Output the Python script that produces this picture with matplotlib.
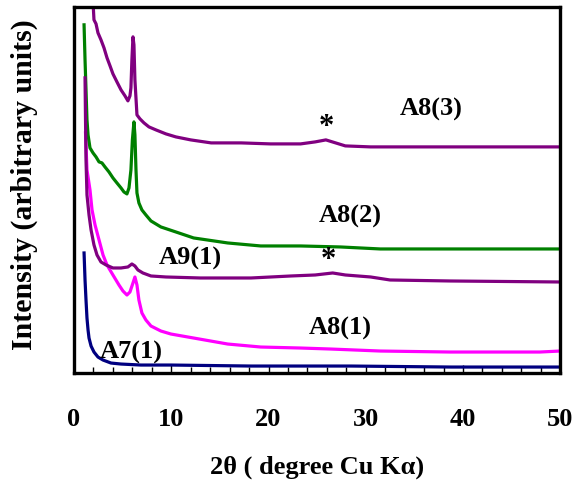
import matplotlib
matplotlib.use('Agg')
import matplotlib.pyplot as plt

plt.rcParams['font.family'] = ['Liberation Serif', 'DejaVu Serif']
plt.rcParams['font.weight'] = 'bold'

# 2theta (degree) and intensity (arbitrary units)
a8_3_x = [1.95, 2.05, 2.26, 2.46, 2.77, 3.08, 3.39, 3.70, 4.00, 4.41, 4.83, 5.24, 5.54, 5.75,
          5.85, 5.95, 6.06, 6.16, 6.26, 6.47, 6.78, 7.19, 7.70, 8.42, 9.45, 10.47, 12.0, 14.1,
          17.2, 20.2, 23.3, 24.8, 25.9, 26.9, 27.9, 30.5, 35.6, 41.8, 50.0]
a8_3_y = [371, 353, 349, 340, 333, 325, 315, 307, 299, 291, 283, 277, 272, 277,
          285, 313, 336, 328, 293, 258, 254, 250, 246, 243, 239, 236, 233, 230,
          230, 229, 229, 231, 233, 230, 227, 226, 226, 226, 226]

a8_2_x = [1.03, 1.13, 1.23, 1.33, 1.44, 1.64, 1.95, 2.26, 2.57, 2.87, 3.18, 3.59, 4.0, 4.41,
          4.83, 5.13, 5.44, 5.65, 5.85, 6.0, 6.16, 6.26, 6.37, 6.47, 6.67, 6.98, 7.39, 7.91,
          8.93, 10.47, 12.3, 15.8, 19.2, 23.3, 27.4, 31.5, 38.7, 50.0]
a8_2_y = [348, 313, 283, 253, 238, 225, 220, 216, 211, 210, 206, 201, 195, 190,
          185, 181, 179, 185, 203, 233, 251, 238, 203, 180, 170, 163, 158, 152,
          146, 141, 135, 130, 127, 127, 126, 124, 124, 124]

a9_1_x = [1.13, 1.18, 1.23, 1.33, 1.54, 1.75, 2.05, 2.36, 2.77, 3.29, 4.0, 4.83, 5.54, 5.95,
          6.26, 6.57, 7.08, 7.91, 9.45, 13.0, 18.2, 22.3, 24.8, 26.6, 27.9, 30.5, 32.5, 38.7, 50.0]
a9_1_y = [295, 253, 213, 178, 158, 143, 128, 118, 111, 108, 105, 105, 106, 109,
          107, 103, 100, 97, 96, 95, 95, 97, 98, 100, 98, 96, 93, 92, 91]

a8_1_x = [1.18, 1.33, 1.64, 1.85, 2.16, 2.57, 2.98, 3.39, 4.0, 4.62, 5.03, 5.44, 5.75,
          6.06, 6.26, 6.47, 6.67, 6.98, 7.39, 7.91, 8.93, 9.96, 12.3, 15.8, 19.2, 23.3, 26.4,
          31.5, 38.7, 47.9, 50.0]
a8_1_y = [240, 203, 183, 163, 148, 133, 118, 108, 98, 88, 82, 78, 81,
          90, 96, 88, 73, 60, 53, 47, 42, 39, 35, 29, 26, 25, 24,
          22, 21, 21, 22]

a7_1_x = [1.03, 1.13, 1.23, 1.33, 1.44, 1.54, 1.75, 2.05, 2.46, 2.98, 3.80, 4.83, 6.88, 9.96,
          18.2, 28.5, 38.8, 50.0]
a7_1_y = [120, 93, 73, 55, 43, 35, 27, 21, 16, 13, 10, 9, 8, 8, 7, 7, 6, 6]

# label text and where it sits (2theta, intensity)
labels = ['A8(3)', 'A8(2)', 'A9(1)', 'A8(1)', 'A7(1)']
label_x = [36.7, 28.4, 12.0, 27.4, 5.85]
label_y = [263, 156, 115, 45, 21]
star_x = [26.0, 26.2]
star_y = [245, 112]

fig = plt.figure(figsize=(5.74, 4.87), dpi=100)
ax = fig.add_axes([0.129, 0.234, 0.847, 0.752])

lw = 2.3
ax.plot(a7_1_x, a7_1_y, color='#000080', lw=lw)
ax.plot(a8_1_x, a8_1_y, color='#ff00ff', lw=lw)
ax.plot(a8_2_x, a8_2_y, color='#008000', lw=lw)
ax.plot(a9_1_x, a9_1_y, color='#800080', lw=lw)
ax.plot(a8_3_x, a8_3_y, color='#800080', lw=lw)

for t, x, y in zip(labels, label_x, label_y):
    ax.text(x, y, t, fontsize=19, fontweight='bold', ha='center', va='center')
for x, y in zip(star_x, star_y):
    ax.text(x, y, '*', fontsize=22, fontweight='bold', ha='center', va='center')

ax.set_xlim(0, 50)
ax.set_ylim(0, 366)
ax.set_xticks([0, 10, 20, 30, 40, 50])
ax.set_xticks(range(0, 51, 2), minor=True)
ax.set_yticks([])
ax.tick_params(axis='x', which='major', direction='in', length=6, width=1, pad=25, labelsize=19)
ax.tick_params(axis='x', which='minor', direction='in', length=4, width=1)
for s in ax.spines.values():
    s.set_linewidth(2.4)

ax.set_xlabel('2θ ( degree Cu Kα)', fontsize=19, fontweight='bold', labelpad=18)
ax.set_ylabel('Intensity (arbitrary units)', fontsize=21.5, fontweight='bold')
ax.yaxis.set_label_coords(-0.075, 0.515)

fig.savefig('out.png', dpi=100)
